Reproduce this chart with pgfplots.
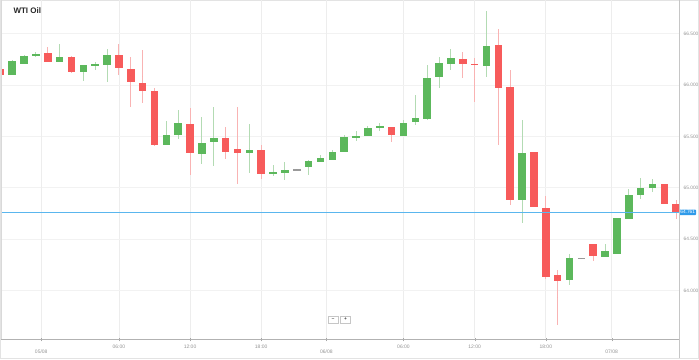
\documentclass[border=0pt]{standalone}
\usepackage{pgfplots}
\pgfplotsset{compat=1.18}
\usepackage{pgfplotstable}
\usepackage{fontspec}
\setmainfont{Liberation Sans}
\definecolor{up}{HTML}{5CB85C}
\definecolor{upwick}{HTML}{B3DBB3}
\definecolor{dn}{HTML}{F75B5B}
\definecolor{dnwick}{HTML}{F9B3B3}
\definecolor{doji}{HTML}{9A9A9A}
\definecolor{pline}{HTML}{5AB6EE}
\definecolor{pbox}{HTML}{2F9BEA}

\pgfplotstableread{
k O H L C
1 66.094 66.244 66.094 66.234
2 66.208 66.295 66.208 66.279
3 66.286 66.325 66.273 66.302
5 66.227 66.399 66.227 66.273
7 66.130 66.195 66.036 66.195
8 66.192 66.227 66.146 66.208
9 66.198 66.347 66.029 66.289
14 65.419 65.646 65.412 65.513
15 65.516 65.756 65.477 65.627
17 65.328 65.692 65.237 65.438
18 65.445 65.789 65.211 65.487
21 65.338 65.617 65.146 65.367
23 65.136 65.224 65.114 65.156
24 65.146 65.256 65.075 65.179
26 65.205 65.276 65.130 65.260
27 65.253 65.318 65.253 65.286
28 65.276 65.373 65.269 65.351
29 65.347 65.510 65.347 65.494
30 65.487 65.552 65.451 65.500
31 65.500 65.601 65.500 65.584
32 65.578 65.633 65.558 65.597
34 65.510 65.659 65.510 65.633
35 65.640 65.903 65.607 65.679
36 65.675 66.192 65.659 66.071
37 66.078 66.276 65.971 66.218
38 66.208 66.347 66.146 66.266
41 66.185 66.724 66.075 66.386
44 64.880 65.656 64.662 65.344
48 64.101 64.351 64.052 64.312
51 64.328 64.448 64.328 64.383
52 64.357 64.708 64.351 64.708
53 64.695 64.987 64.695 64.929
54 64.929 65.091 64.890 65.000
55 65.000 65.091 64.961 65.042
}\upData

\pgfplotstableread{
k O H L C
0 66.159 66.165 66.090 66.097
4 66.308 66.370 66.224 66.224
6 66.273 66.286 66.117 66.123
10 66.295 66.399 66.097 66.162
11 66.159 66.276 65.789 66.026
12 66.023 66.338 65.828 65.942
13 65.942 65.974 65.412 65.412
16 65.617 65.779 65.120 65.334
19 65.487 65.594 65.282 65.351
20 65.377 65.789 65.036 65.334
22 65.370 65.412 65.088 65.130
33 65.591 65.591 65.448 65.513
39 66.256 66.318 66.068 66.201
40 66.208 66.266 65.838 66.195
42 66.393 66.542 65.419 65.974
43 65.981 66.146 64.838 64.880
45 65.351 65.351 64.818 64.818
46 64.805 64.922 64.117 64.133
47 64.153 64.201 63.662 64.094
50 64.455 64.455 64.286 64.334
56 65.036 65.036 64.838 64.838
57 64.838 64.880 64.701 64.761
}\dnData

\pgfplotstableread{
k O H L C
25 65.175 65.175 65.175 65.175
49 64.312 64.312 64.312 64.312
}\dojiData

\pgfplotsset{candle/.style={only marks, mark size=0pt, mark options={draw=none, fill=none}, forget plot}}

\begin{document}
\begin{tikzpicture}[x=1pt,y=1pt]
\useasboundingbox (0,0) rectangle (699,359);
\draw[gray!22] (0.5,0.5) rectangle (698.5,358.5);
\begin{axis}[
  at={(1,20)}, anchor=south west, scale only axis,
  width=678pt, height=339pt,
  xmin=0.073, xmax=57.25, ymin=63.533, ymax=66.833,
  clip mode=individual,
  axis line style={draw=none},
  ytick={64,64.5,65,65.5,66,66.5},
  yticklabel pos=right,
  ytick style={draw=none},
  y tick label style={font=\fontsize{4.8}{5}\selectfont, text=gray!85, anchor=west, xshift=-2pt,
     /pgf/number format/.cd, fixed, fixed zerofill, precision=3, assume math mode=true},
  xtick={10,16,22,34,40,46},
  xticklabels={06:00,12:00,18:00,06:00,12:00,18:00},
  extra x ticks={3.45,27.5,51.55},
  extra x tick labels={05/08,06/08,07/08},
  extra x tick style={grid=major, tick label style={yshift=-5pt}},
  x tick label style={font=\fontsize{5}{5}\selectfont, text=gray!85},
  xtick style={draw=gray!70},
  tick align=outside, major tick length=3pt,
  ymajorgrids, xmajorgrids,
  y grid style={draw=gray!10, line width=0.8pt},
  x grid style={draw=gray!14, line width=0.8pt},
]
% wicks
\addplot[candle, error bars/.cd, y dir=both, y explicit, error mark=none,
  error bar style={line width=1pt, color=upwick}]
  table[x=k, y expr={(\thisrow{H}+\thisrow{L})/2}, y error expr={(\thisrow{H}-\thisrow{L})/2}]{\upData};
\addplot[candle, error bars/.cd, y dir=both, y explicit, error mark=none,
  error bar style={line width=1pt, color=dnwick}]
  table[x=k, y expr={(\thisrow{H}+\thisrow{L})/2}, y error expr={(\thisrow{H}-\thisrow{L})/2}]{\dnData};
% bodies
\addplot[candle, error bars/.cd, y dir=both, y explicit, error mark=none,
  error bar style={line width=7.5pt, color=up}]
  table[x=k, y expr={(\thisrow{O}+\thisrow{C})/2}, y error expr={max(abs(\thisrow{O}-\thisrow{C})/2,0.007)}]{\upData};
\addplot[candle, error bars/.cd, y dir=both, y explicit, error mark=none,
  error bar style={line width=7.5pt, color=dn}]
  table[x=k, y expr={(\thisrow{O}+\thisrow{C})/2}, y error expr={max(abs(\thisrow{O}-\thisrow{C})/2,0.007)}]{\dnData};
\addplot[candle, error bars/.cd, y dir=both, y explicit, error mark=none,
  error bar style={line width=7.5pt, color=doji}]
  table[x=k, y expr={\thisrow{C}}, y error expr={0.005}]{\dojiData};
% current price line
\addplot[pline, line width=0.8pt, forget plot] coordinates {(0.073,64.761) (57.25,64.761)};
\node[fill=pbox, text=white, font=\fontsize{4.8}{5}\selectfont, inner xsep=1pt, inner ysep=1pt,
  anchor=west, rounded corners=0.8pt] at (axis cs:57.25,64.761) {64.761};
\end{axis}
% frame
\draw[gray!30, line width=0.8pt] (1,20) -- (1,359);
\draw[gray!45, line width=0.8pt] (679,1) -- (679,359);
\draw[gray!60, line width=0.8pt] (1,20) -- (679,20);
% title
\node[anchor=west, font=\fontsize{8}{9}\bfseries, text=black!85] at (10,348.5) {WTI Oil};
% zoom buttons
\node[draw=gray!45, fill=white, font=\fontsize{5}{5}\selectfont, minimum width=10pt, minimum height=7pt, inner sep=0pt] at (333,39.5) {−};
\node[draw=gray!45, fill=white, font=\fontsize{5}{5}\selectfont, minimum width=10pt, minimum height=7pt, inner sep=0pt] at (345.5,39.5) {+};
\end{tikzpicture}
\end{document}
